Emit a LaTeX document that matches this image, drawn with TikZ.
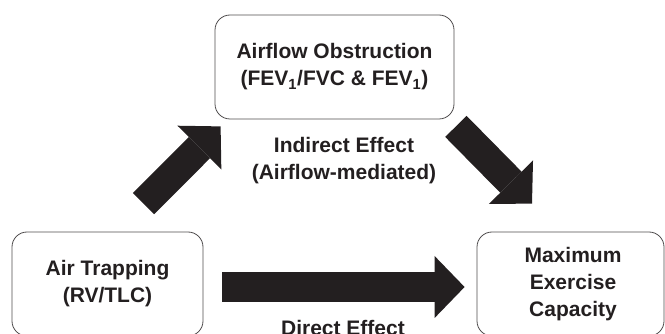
\documentclass[tikz,border=0pt]{standalone}
\usepackage{fontspec}
\setmainfont{Liberation Sans}
\usetikzlibrary{positioning, arrows.meta}
\definecolor{ink}{HTML}{231F20}
\newcommand{\diagfont}{\fontsize{21}{27}\selectfont\bfseries}

\begin{document}
\begin{tikzpicture}[
		x=1pt, y=-1pt,
		box/.style={rectangle, draw=ink!80, line width=0.8pt, rounded corners=15pt, align=center, inner sep=0pt, text=ink, font=\diagfont, minimum height=104pt},
		effect/.style={align=center, inner sep=0pt, text=ink, font=\diagfont},
		bigarrow/.style={draw=ink, line width=30pt, -{Triangle[length=30pt, width=62pt, line width=0pt]}},
	]
	\useasboundingbox (0,0) rectangle (665,334);

	\node[box, minimum width=239pt] (flow) at (334.5,67) {Airflow Obstruction\\(FEV\textsubscript{1}/FVC \& FEV\textsubscript{1})};
	\node[box, minimum width=191pt] (trap) at (107.5,284) {Air Trapping\\(RV/TLC)};
	\node[box, minimum width=187pt] (maxcap) at (570.5,284) {\hspace*{5pt}Maximum\\\hspace*{5pt}Exercise\\\hspace*{5pt}Capacity};
	\node[effect] (indirect) at (344,161) {Indirect Effect\\(Airflow-mediated)};
	\node[effect, anchor=base] (direct) at (343,335) {Direct Effect};

	\draw[bigarrow] ([shift={(36,-28)}]trap.north) -- ([shift={(6,7)}]flow.south west);
	\draw[bigarrow] ([shift={(1.5,7)}]flow.south east) -- ([shift={(-38.5,-28)}]maxcap.north);
	\draw[bigarrow] ([shift={(19,3)}]trap.east) -- ([shift={(-12,3)}]maxcap.west);

\end{tikzpicture}
\end{document}
